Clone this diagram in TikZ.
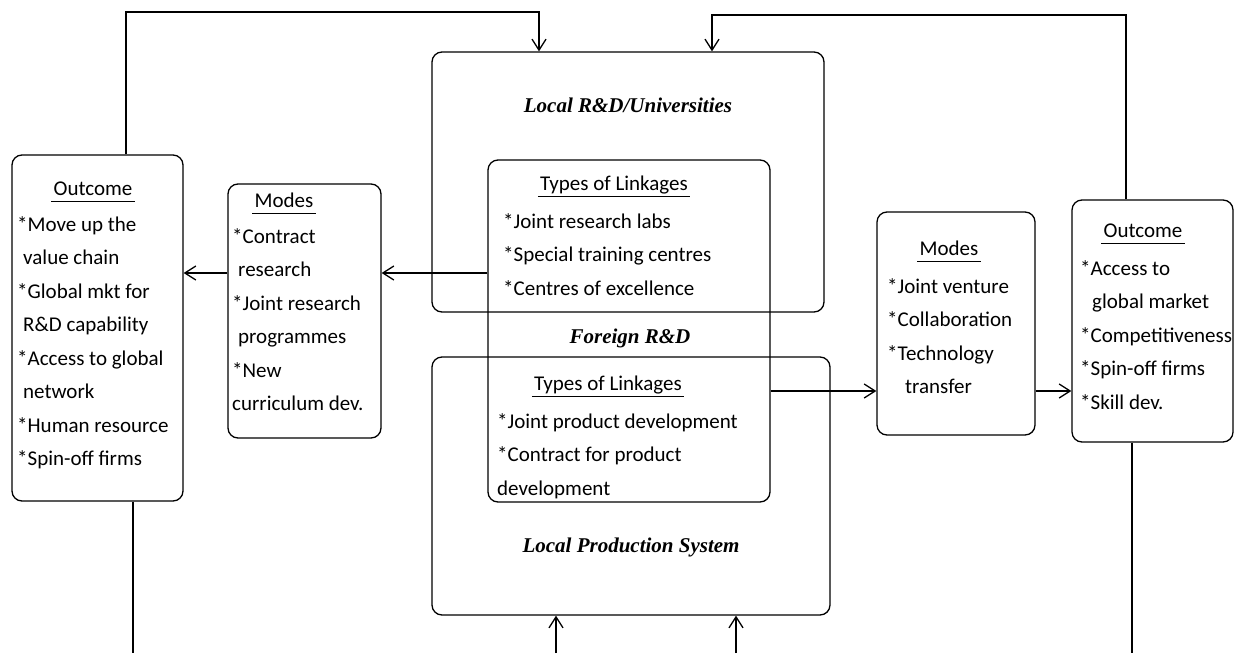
\documentclass[tikz,border=0pt]{standalone}
\usepackage{fontspec}
\newfontfamily\handfont{Carlito}
\newfontfamily\fancyfont{Liberation Serif}
\usetikzlibrary{positioning}
\usetikzlibrary{arrows.meta}

\tikzset{
  box/.style={draw, rounded corners=10pt, line width=1.3pt},
  txt/.style={font=\handfont\fontsize{21}{33.5}\selectfont, align=left, anchor=north west, inner sep=0pt},
  head/.style={font=\handfont\fontsize{21}{24}\selectfont, text height=14pt, text depth=5pt, inner xsep=2pt, inner ysep=1pt,
    append after command={(\tikzlastnode.south west) edge[line width=1.3pt] (\tikzlastnode.south east)}},
  fancy/.style={font=\fancyfont\fontsize{21}{24}\selectfont\bfseries\itshape},
  link/.style={line width=1.3pt, -{Straight Barb[length=11pt,width=14pt]}},
  plain/.style={line width=1.3pt},
}

\begin{document}
\begin{tikzpicture}[x=1pt, y=-1pt, on grid]
        \useasboundingbox (0,0) rectangle (1236,653);
        \node[box, minimum width=171pt, minimum height=346pt] (outL) at (97.5,328) {};
        \node[box, minimum width=153pt, minimum height=254pt] (modesL) at (304.5,311) {};
        \node[box, minimum width=392pt, minimum height=260pt] (lrd) at (628,182) {};
        \node[box, minimum width=398pt, minimum height=258pt] (lps) at (631,486) {};
        \node[box, minimum width=282pt, minimum height=342pt] (frd) at (629,331) {};
        \node[box, minimum width=158pt, minimum height=223pt] (modesR) at (956,323.5) {};
        \node[box, minimum width=161pt, minimum height=242pt] (outR) at (1152.5,321) {};
        \node[fancy] (lrdT) [below=43pt of lrd.north] {Local R\&D/Universities};
        \node[fancy] (lpsT) [above=55pt of lps.south] {Local Production System};
        \node[fancy] (frdT) at (630,338) {Foreign R\&D};
        \node[head] (outLh) at (93,191) {Outcome};
        \node[txt] (outLt) at (17,216) {*Move up the\\{}\hspace*{6pt}value chain\\{}*Global mkt for\\{}\hspace*{6pt}R\&D capability\\{}*Access to global\\{}\hspace*{6pt}network\\{}*Human resource\\{}*Spin-off firms};
        \node[head] (modesLh) at (284,203) {Modes};
        \node[txt] (modesLt) at (232,228) {*Contract\\{}\hspace*{6pt}research\\{}*Joint research\\{}\hspace*{6pt}programmes\\{}*New\\{}curriculum dev.};
        \node[head] (linkAh) at (614,186) {Types of Linkages};
        \node[txt] (linkAt) at (503,213) {*Joint research labs\\{}*Special training centres\\{}*Centres of excellence};
        \node[head] (linkBh) at (608,386) {Types of Linkages};
        \node[txt] (linkBt) at (497,413) {*Joint product development\\{}*Contract for product\\{}development};
        \node[head] (modesRh) at (949,251) {Modes};
        \node[txt] (modesRt) at (887,278) {*Joint venture\\{}*Collaboration\\{}*Technology\\{}\hspace*{18pt}transfer};
        \node[head] (outRh) at (1143,233) {Outcome};
        \node[txt] (outRt) at (1080,260) {*Access to\\{}\hspace*{12pt}global market\\{}*Competitiveness\\{}*Spin-off firms\\{}*Skill dev.};
        \coordinate (yA) at (0,273);
        \coordinate (yB) at (0,391);
        \coordinate (kL) at (126,12);
        \coordinate (kLe) at (539,12);
        \coordinate (kR) at (1126,15);
        \coordinate (kRe) at (712,15);
        \coordinate (bL) at (133,653);
        \coordinate (bR) at (1132,653);
        \coordinate (b1) at (556,653);
        \coordinate (b2) at (736,653);
        \draw[link] (frd.west |- yA) -- (modesL.east |- yA);
        \draw[link] (modesL.west |- yA) -- (outL.east |- yA);
        \draw[link] (frd.east |- yB) -- (modesR.west |- yB);
        \draw[link] (modesR.east |- yB) -- (outR.west |- yB);
        \draw[link] (outL.north -| kL) -- (kL) -- (kLe) -- (lrd.north -| kLe);
        \draw[link] (outR.north -| kR) -- (kR) -- (kRe) -- (lrd.north -| kRe);
        \draw[plain] (outL.south -| bL) -- (bL);
        \draw[plain] (outR.south -| bR) -- (bR);
        \draw[link] (b1) -- (lps.south -| b1);
        \draw[link] (b2) -- (lps.south -| b2);
      \end{tikzpicture}
\end{document}
